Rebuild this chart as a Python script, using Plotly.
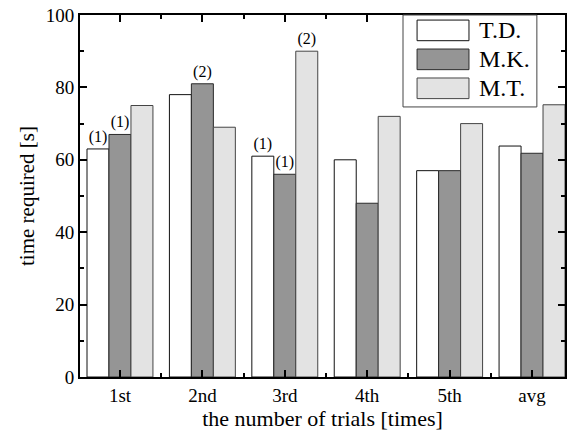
import plotly.graph_objects as go

categories = ["1st", "2nd", "3rd", "4th", "5th", "avg"]
series_names = ["T.D.", "M.K.", "M.T."]
td_values = [63, 78, 61, 60, 57, 63.8]
mk_values = [67, 81, 56, 48, 57, 61.8]
mt_values = [75, 69, 90, 72, 70, 75.2]
td_labels = ["(1)", "", "(1)", "", "", ""]
mk_labels = ["(1)", "(2)", "(1)", "", "", ""]
mt_labels = ["", "", "(2)", "", "", ""]
y_ticks = [0, 20, 40, 60, 80, 100]

colors = ["#ffffff", "#959595", "#e3e3e3"]
edges = ["#111111", "#2a2a2a", "#444444"]
FONT = "'Liberation Serif', 'Times New Roman', Times, serif"

xpos = list(range(len(categories)))
fig = go.Figure()
for name, vals, labels, c, e in zip(series_names, [td_values, mk_values, mt_values],
                                     [td_labels, mk_labels, mt_labels], colors, edges):
    fig.add_trace(go.Bar(
        x=xpos, y=vals, name=name, text=labels, textposition="outside",
        textfont=dict(family=FONT, size=16, color="black"),
        constraintext="none", cliponaxis=False,
        marker=dict(color=c, line=dict(color=e, width=1)),
        showlegend=False,
    ))

fig.update_layout(
    width=578, height=432,
    margin=dict(l=80, r=13, t=15, b=55),
    paper_bgcolor="white", plot_bgcolor="white",
    barmode="group", bargap=0.2, bargroupgap=0,
    font=dict(family=FONT, size=19, color="black"),
)
fig.update_xaxes(
    range=[-0.485, 5.4], tickmode="array", tickvals=xpos, ticktext=categories,
    ticks="inside", ticklen=7, tickwidth=1.5, tickcolor="black",
    showline=True, linecolor="black", linewidth=2, mirror="allticks",
    showgrid=False, zeroline=False, automargin=False,
    minor=dict(tickvals=[p + 0.5 for p in xpos], ticks="inside", ticklen=4, tickwidth=1.5, tickcolor="black"),
    title=dict(text="the number of trials [times]", font=dict(family=FONT, size=22), standoff=4),
    tickfont=dict(family=FONT, size=19),
)
fig.update_yaxes(
    range=[0, 100], tickmode="array", tickvals=y_ticks,
    ticks="inside", ticklen=7, tickwidth=1.5, tickcolor="black",
    showline=True, linecolor="black", linewidth=2, mirror="allticks",
    showgrid=False, zeroline=False, automargin=False,
    minor=dict(dtick=10, ticks="inside", ticklen=4, tickwidth=1.5, tickcolor="black"),
    title=dict(text="time required [s]", font=dict(family=FONT, size=21), standoff=5),
    tickfont=dict(family=FONT, size=19),
)

# legend box drawn as in the original figure
fig.add_shape(type="rect", xref="paper", yref="paper", x0=0.666, x1=0.942, y0=0.746, y1=1.0,
              line=dict(color="#444444", width=1), fillcolor="white", layer="above")
row_tops = [0.986, 0.906, 0.826]
for name, c, e, top in zip(series_names, colors, edges, row_tops):
    fig.add_shape(type="rect", xref="paper", yref="paper", x0=0.695, x1=0.802,
                  y0=top - 0.057, y1=top, line=dict(color=e, width=1), fillcolor=c, layer="above")
    fig.add_annotation(xref="paper", yref="paper", x=0.818, y=top - 0.0285, text=name,
                       showarrow=False, xanchor="left", yanchor="middle",
                       font=dict(family=FONT, size=24, color="black"))

fig.write_html("out.html")
